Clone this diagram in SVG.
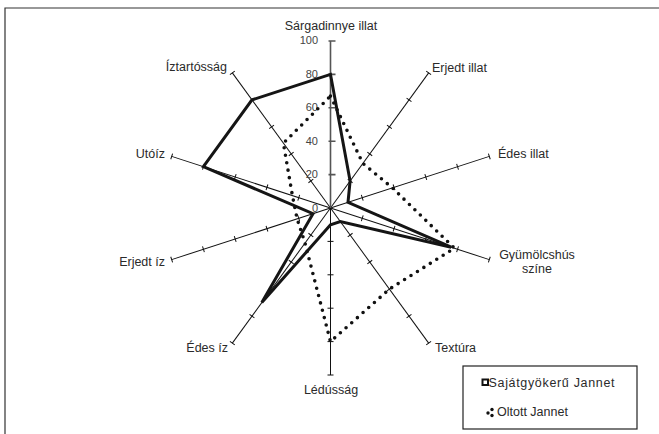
<svg xmlns="http://www.w3.org/2000/svg" xmlns:xlink="http://www.w3.org/1999/xlink" width="659" height="434" viewBox="0 0 659 434">
<style>
  text { font-family: "Liberation Sans", Arial, sans-serif; fill: #2a2a2a; }
  .lbl { font-size: 12.5px; }
  .val { font-size: 11px; fill: #444; text-anchor: end; }
  .ax { stroke: #111; stroke-width: 1; fill: none; }
  .vax { stroke: #555; stroke-width: 1.6; fill: none; }
  .solid { fill: none; stroke: #151515; stroke-width: 3; stroke-linejoin: miter; }
  .dotted { fill: none; stroke: #111; stroke-width: 3.6; stroke-linecap: round; stroke-dasharray: 0 7.6; }
</style>
<defs>
  <g id="axis">
    <line class="ax" x1="0" y1="0" x2="0" y2="-167"/>
    <path class="ax" d="M-3,-33.4H3M-3,-66.8H3M-3,-100.2H3M-3,-133.6H3M-3,-167H3"/>
  </g>
</defs>
<rect width="659" height="434" fill="#fff"/>
<path d="M5,434V8H659" fill="none" stroke="#333" stroke-width="1.2"/>

<g id="axes" transform="translate(330.5,208)">
  <use xlink:href="#axis" transform="rotate(36)"/>
  <use xlink:href="#axis" transform="rotate(72)"/>
  <use xlink:href="#axis" transform="rotate(108)"/>
  <use xlink:href="#axis" transform="rotate(144)"/>
  <use xlink:href="#axis" transform="rotate(180)"/>
  <use xlink:href="#axis" transform="rotate(216)"/>
  <use xlink:href="#axis" transform="rotate(252)"/>
  <use xlink:href="#axis" transform="rotate(288)"/>
  <use xlink:href="#axis" transform="rotate(324)"/>
  <line class="vax" x1="0" y1="0" x2="0" y2="-167"/>
  <path class="vax" d="M-2,-33.4H5M-2,-66.8H5M-2,-100.2H5M-2,-133.6H5M-2,-167H5"/>
</g>

<g id="value-labels">
  <text class="val" x="318" y="44">100</text>
  <text class="val" x="318" y="78">80</text>
  <text class="val" x="318" y="111">60</text>
  <text class="val" x="318" y="145">40</text>
  <text class="val" x="318" y="178">20</text>
  <text class="val" x="318" y="212">0</text>
</g>

<g id="series">
  <polygon id="oltott" class="dotted" points="330.5,96.1 362.9,163.4 392.4,187.9 454.4,248.2 389.4,289.1 330.5,341.6 305,243.1 297.1,218.8 292.4,195.6 283.4,143.2"/>
  <polygon id="sajatgyokeru" class="solid" points="330.5,74.4 350.1,181 348,202.3 451.2,247.2 340.3,221.5 330.5,224.7 261.8,302.6 313,213.7 203.4,166.7 252,99.9"/>
</g>

<g id="label-sargadinnye"><text class="lbl" x="331" y="30" text-anchor="middle">Sárgadinnye illat</text></g>
<g id="label-erjedt-illat"><text class="lbl" x="432" y="72">Erjedt illat</text></g>
<g id="label-edes-illat"><text class="lbl" x="498" y="158">Édes illat</text></g>
<g id="label-gyumolcshus"><text class="lbl" x="537" y="259" text-anchor="middle">Gyümölcshús</text><text class="lbl" x="537" y="273" text-anchor="middle">színe</text></g>
<g id="label-textura"><text class="lbl" x="435" y="352">Textúra</text></g>
<g id="label-ledussag"><text class="lbl" x="331" y="394" text-anchor="middle">Lédússág</text></g>
<g id="label-edes-iz"><text class="lbl" x="228" y="352" text-anchor="end">Édes íz</text></g>
<g id="label-erjedt-iz"><text class="lbl" x="165" y="266" text-anchor="end">Erjedt íz</text></g>
<g id="label-utoiz"><text class="lbl" x="165" y="158" text-anchor="end">Utóíz</text></g>
<g id="label-iztartossag"><text class="lbl" x="227" y="71" text-anchor="end">Íztartósság</text></g>

<g id="legend">
  <rect x="463" y="366" width="174" height="63" fill="#fff" stroke="#222" stroke-width="1.2"/>
  <rect x="482.5" y="379.5" width="5.5" height="5.5" fill="#fff" stroke="#111" stroke-width="2"/>
  <text x="488.5" y="387" font-size="12.5" textLength="126" lengthAdjust="spacing">Sajátgyökerű Jannet</text>
  <circle cx="488" cy="413" r="1.7" fill="#111"/>
  <circle cx="492" cy="409.5" r="1.7" fill="#111"/>
  <circle cx="492" cy="415.5" r="1.7" fill="#111"/>
  <text x="497" y="416" font-size="12.5">Oltott Jannet</text>
</g>
</svg>
